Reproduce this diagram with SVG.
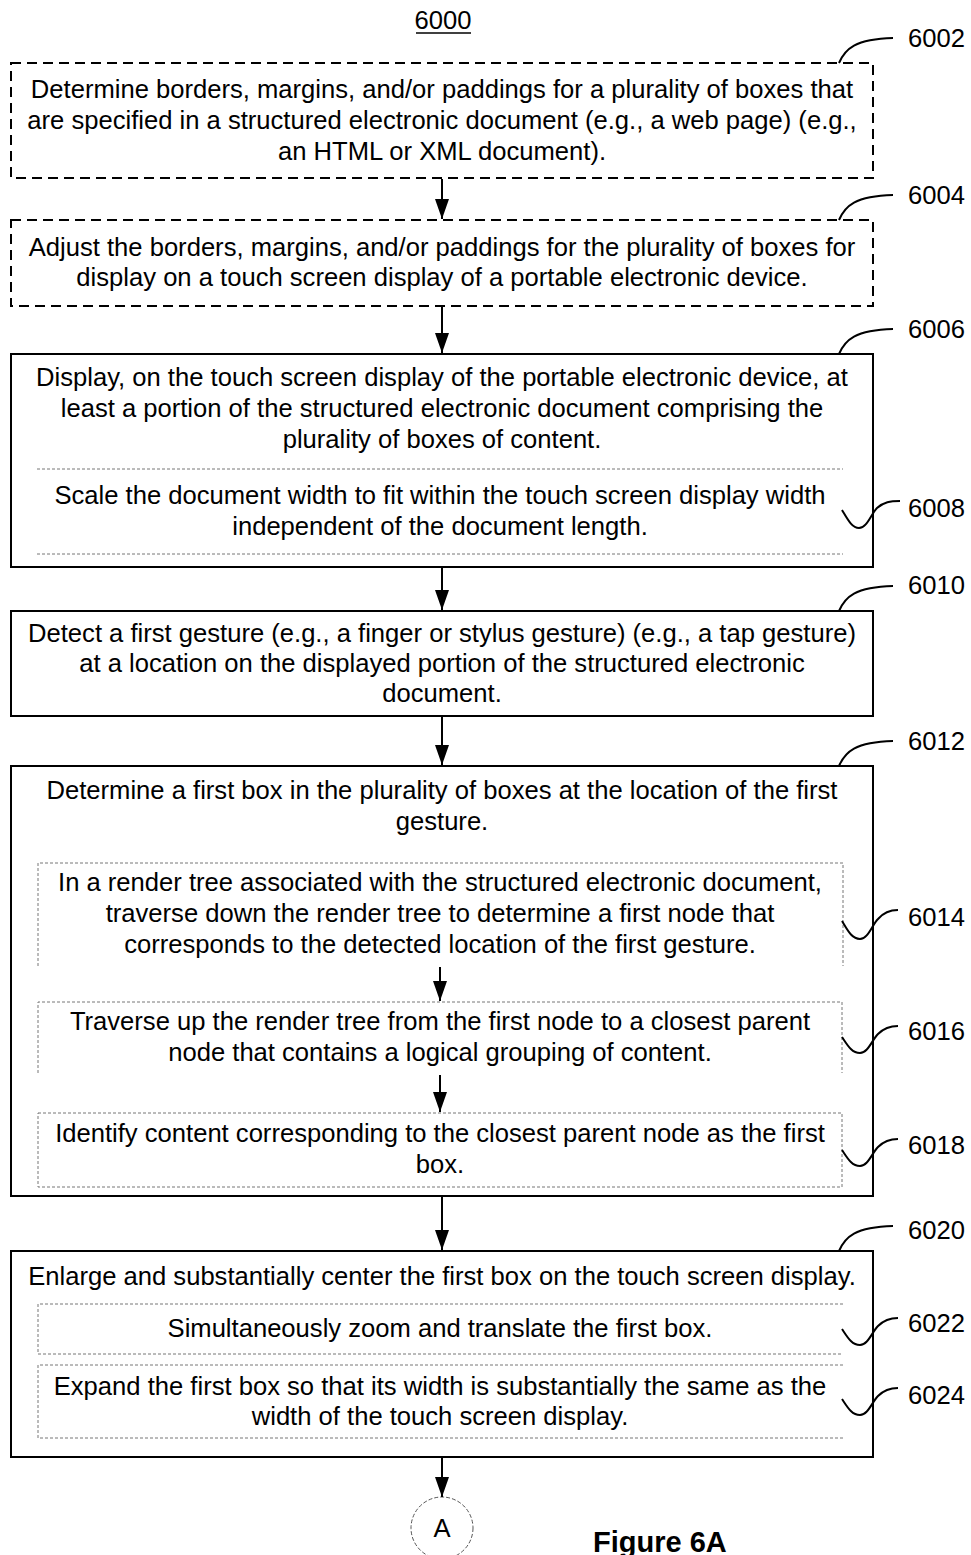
<svg xmlns="http://www.w3.org/2000/svg" width="971" height="1555" viewBox="0 0 971 1555">
<style>
text{font-family:"Liberation Sans",Arial,sans-serif;font-size:25.6px;fill:#000}
.t{text-anchor:middle}
.box{fill:#fff;stroke:#000;stroke-width:2}
.dash{fill:#fff;stroke:#000;stroke-width:2;stroke-dasharray:10,6}
.dot{fill:none;stroke:#777;stroke-width:1;stroke-dasharray:3,2}
.lead{fill:none;stroke:#000;stroke-width:2}
.conn{stroke:#000;stroke-width:2;fill:none}
.fig{font-weight:bold;font-size:29px}
</style>
<defs>
<marker id="ah" markerUnits="userSpaceOnUse" markerWidth="20" markerHeight="14" refX="20" refY="7" orient="auto" viewBox="0 0 20 14">
<path d="M0,0 L20,7 L0,14 Z" fill="#000"/>
</marker>
</defs>
<rect width="971" height="1555" fill="#fff"/>
<g id="title">
<text class="t" x="443" y="29">6000</text>
<line x1="416" y1="33" x2="471" y2="33" stroke="#000" stroke-width="1.5"/>
</g>
<g id="n6002">
<rect class="dash" x="11" y="63" width="862" height="115"/>
<text class="t" x="442" y="98">Determine borders, margins, and/or paddings for a plurality of boxes that</text>
<text class="t" x="442" y="129">are specified in a structured electronic document (e.g., a web page) (e.g.,</text>
<text class="t" x="442" y="160">an HTML or XML document).</text>
<path class="lead" d="M839,63 C845,49 855,39 893,38"/>
<text x="908" y="47">6002</text>
</g>
<g id="n6004">
<rect class="dash" x="11" y="220" width="862" height="86"/>
<text class="t" x="442" y="256">Adjust the borders, margins, and/or paddings for the plurality of boxes for</text>
<text class="t" x="442" y="286">display on a touch screen display of a portable electronic device.</text>
<path class="lead" d="M839,220 C845,206 855,196 893,195"/>
<text x="908" y="204">6004</text>
</g>
<g id="n6006">
<rect class="box" x="11" y="354" width="862" height="213"/>
<text class="t" x="442" y="386">Display, on the touch screen display of the portable electronic device, at</text>
<text class="t" x="442" y="417">least a portion of the structured electronic document comprising the</text>
<text class="t" x="442" y="448">plurality of boxes of content.</text>
<path class="lead" d="M839,354 C845,340 855,330 893,329"/>
<text x="908" y="338">6006</text>
</g>
<g id="n6008">
<line class="dot" x1="37" y1="469" x2="843" y2="469"/>
<text class="t" x="440" y="504">Scale the document width to fit within the touch screen display width</text>
<text class="t" x="440" y="535">independent of the document length.</text>
<line class="dot" x1="37" y1="554" x2="843" y2="554"/>
<path class="lead" d="M842,510 C848,520 852,528 859,528 C867,528 871,514 877,508 C884,502 890,501 900,501"/>
<text x="908" y="517">6008</text>
</g>
<g id="n6010">
<rect class="box" x="11" y="611" width="862" height="105"/>
<text class="t" x="442" y="642">Detect a first gesture (e.g., a finger or stylus gesture) (e.g., a tap gesture)</text>
<text class="t" x="442" y="672">at a location on the displayed portion of the structured electronic</text>
<text class="t" x="442" y="702">document.</text>
<path class="lead" d="M839,611 C845,597 855,587 893,586"/>
<text x="908" y="594">6010</text>
</g>
<g id="n6012">
<rect class="box" x="11" y="766" width="862" height="430"/>
<text class="t" x="442" y="799">Determine a first box in the plurality of boxes at the location of the first</text>
<text class="t" x="442" y="830">gesture.</text>
<path class="lead" d="M839,766 C845,752 855,742 893,741"/>
<text x="908" y="750">6012</text>
</g>
<g id="n6014">
<path class="dot" d="M38,966 V863 H843 V966"/>
<text class="t" x="440" y="891">In a render tree associated with the structured electronic document,</text>
<text class="t" x="440" y="922">traverse down the render tree to determine a first node that</text>
<text class="t" x="440" y="953">corresponds to the detected location of the first gesture.</text>
<path class="lead" d="M842,921 C848,931 852,939 860,939 C868,939 872,925 878,919 C884,912 890,910 898,910"/>
<text x="908" y="926">6014</text>
</g>
<g id="n6016">
<path class="dot" d="M38,1073 V1002 H842 V1073"/>
<text class="t" x="440" y="1030">Traverse up the render tree from the first node to a closest parent</text>
<text class="t" x="440" y="1061">node that contains a logical grouping of content.</text>
<path class="lead" d="M842,1037 C848,1046 852,1053 860,1053 C868,1053 872,1040 878,1034 C884,1028 890,1026 898,1026"/>
<text x="908" y="1040">6016</text>
</g>
<g id="n6018">
<rect class="dot" x="38" y="1113" width="804" height="74"/>
<text class="t" x="440" y="1142">Identify content corresponding to the closest parent node as the first</text>
<text class="t" x="440" y="1173">box.</text>
<path class="lead" d="M842,1150 C848,1159 852,1166 860,1166 C868,1166 872,1153 878,1147 C884,1141 890,1139 898,1139"/>
<text x="908" y="1154">6018</text>
</g>
<g id="n6020">
<rect class="box" x="11" y="1251" width="862" height="206"/>
<text class="t" x="442" y="1285">Enlarge and substantially center the first box on the touch screen display.</text>
<path class="lead" d="M839,1251 C845,1237 855,1227 893,1226"/>
<text x="908" y="1239">6020</text>
</g>
<g id="n6022">
<path class="dot" d="M843,1304 H38 V1354 H843"/>
<text class="t" x="440" y="1337">Simultaneously zoom and translate the first box.</text>
<path class="lead" d="M842,1329 C848,1338 852,1345 860,1345 C868,1345 872,1332 878,1326 C884,1320 890,1318 898,1318"/>
<text x="908" y="1332">6022</text>
</g>
<g id="n6024">
<path class="dot" d="M843,1365 H38 V1438 H843"/>
<text class="t" x="440" y="1395">Expand the first box so that its width is substantially the same as the</text>
<text class="t" x="440" y="1425">width of the touch screen display.</text>
<path class="lead" d="M842,1399 C848,1408 852,1415 860,1415 C868,1415 872,1402 878,1396 C884,1390 890,1388 898,1388"/>
<text x="908" y="1404">6024</text>
</g>
<g id="connA">
<circle cx="442" cy="1528" r="31" fill="#fff" stroke="#555" stroke-width="1" stroke-dasharray="4,2"/>
<text class="t" x="442" y="1537">A</text>
</g>
<g id="caption">
<text class="fig" x="593" y="1552">Figure 6A</text>
</g>
<g id="connectors">
<line class="conn" x1="442" y1="179" x2="442" y2="219" marker-end="url(#ah)"/>
<line class="conn" x1="442" y1="307" x2="442" y2="353" marker-end="url(#ah)"/>
<line class="conn" x1="442" y1="568" x2="442" y2="610" marker-end="url(#ah)"/>
<line class="conn" x1="442" y1="717" x2="442" y2="765" marker-end="url(#ah)"/>
<line class="conn" x1="440" y1="967" x2="440" y2="1001" marker-end="url(#ah)"/>
<line class="conn" x1="440" y1="1075" x2="440" y2="1112" marker-end="url(#ah)"/>
<line class="conn" x1="442" y1="1197" x2="442" y2="1250" marker-end="url(#ah)"/>
<line class="conn" x1="442" y1="1458" x2="442" y2="1497" marker-end="url(#ah)"/>
</g>
</svg>
